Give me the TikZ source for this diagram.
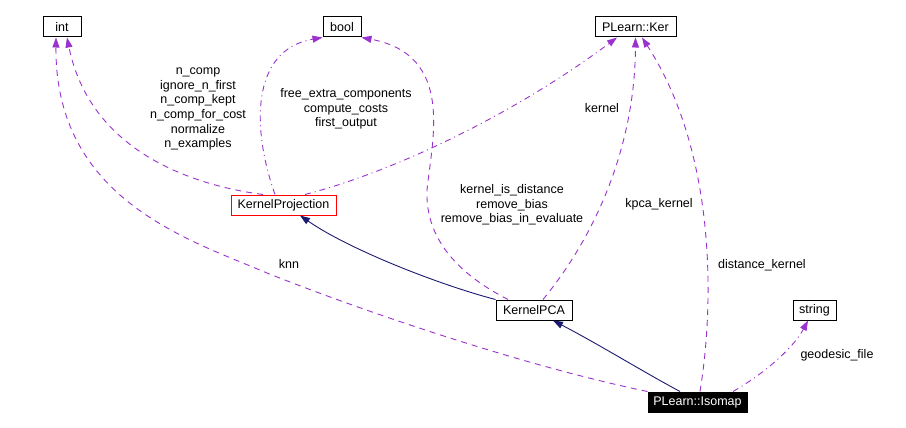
\documentclass[tikz,border=0pt]{standalone}
\usepackage{fontspec}
\setmainfont{Liberation Sans}
\usetikzlibrary{arrows.meta}
\definecolor{usecol}{HTML}{9A32CD}
\definecolor{inhcol}{HTML}{191970}

\begin{document}
\begin{tikzpicture}[x=1pt, y=-1pt,
        cls/.style={draw, line width=1pt, minimum height=20pt, inner xsep=2pt, inner ysep=0pt, font=\fontsize{12.5}{15}\selectfont},
        uses/.style={usecol, line width=0.9pt, dash pattern=on 6pt off 5pt, -{Triangle[length=10pt,width=7pt]}},
        usesdot/.style={uses, dash pattern=on 6pt off 4pt on 1pt off 4pt},
        inherits/.style={inhcol, line width=0.9pt, -{Triangle[length=10pt,width=7pt]}},
        lbl/.style={align=center, font=\fontsize{12.5}{14.7}\selectfont}]
        \useasboundingbox (0,0) rectangle (906,428);

        % Top row
        \node[cls, minimum width=38pt] (int) at (62,27) {int};
        \node[cls, minimum width=38pt] (bool) at (342,27) {bool};
        \node[cls, minimum width=81pt] (ker) at (635.5,27) {PLearn::Ker};

        % Middle
        \node[cls, draw=red, minimum width=105pt] (kproj) at (283.5,205) {KernelProjection};
        \node[cls, minimum width=76pt] (kpca) at (534,310) {KernelPCA};
        \node[cls, minimum width=43pt] (string) at (814.5,310) {string};

        % Bottom
        \node[cls, fill=black, text=white, minimum width=99pt] (iso) at (697.5,402) {PLearn::Isomap};

        % Inheritance
        \draw[inherits] (kpca.north west) .. controls (440,285) and (350,250) .. ([xshift=16.5pt]kproj.south);
        \draw[inherits] ([xshift=-17.5pt]iso.north) .. controls (640,370) and (600,345) .. ([xshift=19pt]kpca.south);

        % Members
        \draw[uses] ([xshift=-20.5pt]kproj.north) .. controls (190,185) and (90,150) .. ([xshift=5pt]int.south);
        \draw[uses] (iso.north west) .. controls (520,365) and (360,310) .. (267,273)
            .. controls (190,240) and (55,200) .. ([xshift=-6pt]int.south);
        \draw[usesdot] ([xshift=-8.5pt]kproj.north) .. controls (252,130) and (250,50) .. (bool.south west);
        \draw[uses] ([xshift=-26pt]kpca.north) .. controls (460,275) and (425,240) .. (427,190)
            .. controls (432,140) and (455,55) .. (bool.south east);
        \draw[usesdot] ([xshift=21.5pt]kproj.north) .. controls (400,170) and (520,110) .. ([xshift=-18.5pt]ker.south);
        \draw[uses] ([xshift=9pt]kpca.north) .. controls (600,230) and (635,140) .. (ker.south);
        \draw[uses] ([xshift=2.5pt]iso.north) .. controls (715,300) and (715,150) .. ([xshift=6.5pt]ker.south);
        \draw[usesdot] ([xshift=35.5pt]iso.north) .. controls (770,370) and (795,345) .. ([xshift=-6.5pt]string.south);

        % Labels
        \node[lbl] (lint) at (198,109) {n\_comp\\ignore\_n\_first\\n\_comp\_kept\\n\_comp\_for\_cost\\normalize\\n\_examples};
        \node[lbl] (lbool) at (346,109) {free\_extra\_components\\compute\_costs\\first\_output};
        \node[lbl] (lbool2) at (512,205) {kernel\_is\_distance\\remove\_bias\\remove\_bias\_in\_evaluate};
        \node[lbl] (lker) at (602,108) {kernel};
        \node[lbl] (lkpca) at (659,204) {kpca\_kernel};
        \node[lbl] (ldist) at (762,265) {distance\_kernel};
        \node[lbl] (lknn) at (289,264) {knn};
        \node[lbl] (lgeo) at (837,355) {geodesic\_file};
    \end{tikzpicture}
\end{document}
